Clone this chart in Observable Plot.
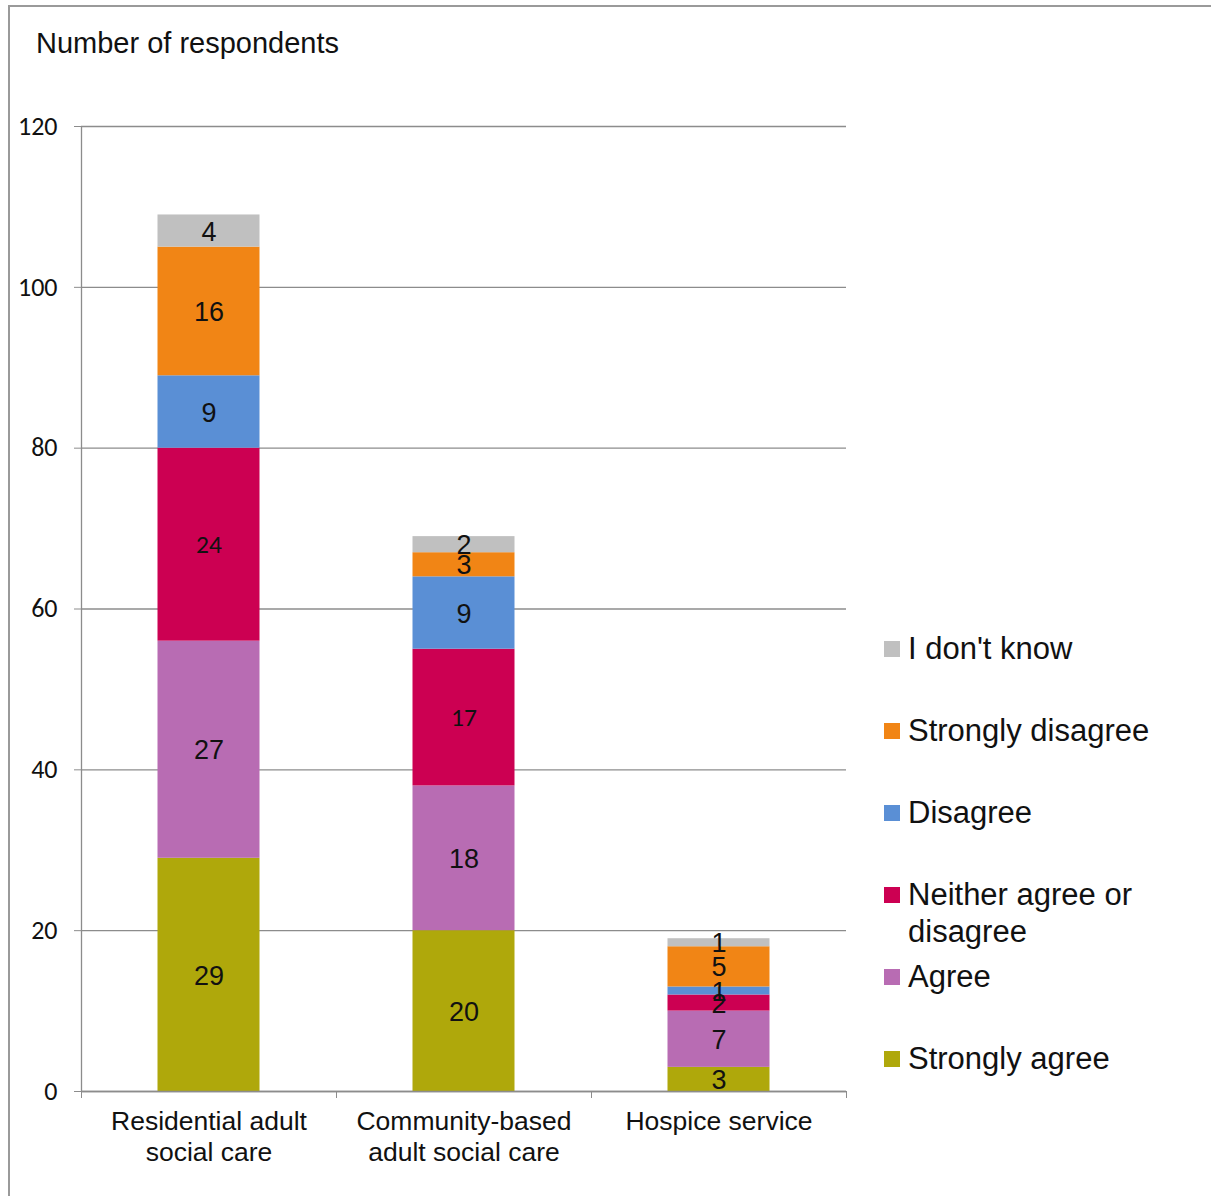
<!DOCTYPE html>
<html>
<head>
<meta charset="utf-8">
<script src="https://cdn.jsdelivr.net/npm/d3@7"></script>
<script src="https://cdn.jsdelivr.net/npm/@observablehq/plot@0.6"></script>
<style>
  html, body { margin: 0; padding: 0; background: #fff; }
  #wrap { position: relative; width: 1211px; height: 1196px; overflow: hidden; font-family: "Liberation Sans", Arial, sans-serif; }
  #border { position: absolute; left: 8px; top: 5px; width: 1220px; height: 1220px; border: 2px solid #9a9a9a; box-sizing: border-box; }
  #chart { position: absolute; left: 0; top: 0; }
  #ylabel { position: absolute; left: 36px; top: 26px; font-size: 29px; line-height: 34px; color: #111; white-space: nowrap; }
  .leg { position: absolute; left: 884px; font-size: 31px; line-height: 37px; color: #111; width: 327px; display: flex; align-items: flex-start; }
  .leg .sw { width: 16px; height: 16px; margin-top: 11px; margin-right: 8px; flex: none; }
</style>
</head>
<body>
<div id="wrap">
  <div id="border"></div>
  <div id="chart"></div>
  <div id="ylabel">Number of respondents</div>
</div>
<script>
// ---- data ----
const categories = ["Residential adult\nsocial care", "Community-based\nadult social care", "Hospice service"];
const seriesNames = ["Strongly agree", "Agree", "Neither agree or disagree", "Disagree", "Strongly disagree", "I don't know"];
const stronglyAgree = [29, 20, 3];
const agree = [27, 18, 7];
const neither = [24, 17, 2];
const disagree = [9, 9, 1];
const stronglyDisagree = [16, 3, 5];
const dontKnow = [4, 2, 1];
const seriesColors = ["#AFA80B", "#B86CB3", "#CC0052", "#5A8FD5", "#F18515", "#C0C0C0"];
const yTicks = [0, 20, 40, 60, 80, 100, 120];
const legendOrder = ["I don't know", "Strongly disagree", "Disagree", "Neither agree or disagree", "Agree", "Strongly agree"];

// ---- build stacked rows ----
const seriesValues = [stronglyAgree, agree, neither, disagree, stronglyDisagree, dontKnow];
const rows = [];
categories.forEach((cat, i) => {
  let base = 0;
  seriesNames.forEach((s, k) => {
    const v = seriesValues[k][i];
    rows.push({cat, i, series: s, value: v, y1: base, y2: base + v});
    base += v;
  });
});
const BAR = 0.4; // fraction of band occupied by bar

const color = d3.scaleOrdinal(seriesNames, seriesColors);
const bigLabel = d => !(d.series === "Neither agree or disagree" && d.value > 10);

const chart = Plot.plot({
  width: 1211,
  height: 1196,
  marginLeft: 81,
  marginRight: 365,
  marginTop: 126,
  marginBottom: 105,
  style: {background: "transparent", overflow: "visible"},
  x: {domain: [0, categories.length], axis: null},
  y: {domain: [0, 120], axis: null},
  marks: [
    Plot.gridY(yTicks, {stroke: "#8c8c8c", strokeOpacity: 1, strokeWidth: 1.3}),
    Plot.rect(rows, {
      x1: d => d.i + 0.5 - BAR / 2,
      x2: d => d.i + 0.5 + BAR / 2,
      y1: "y1", y2: "y2",
      fill: d => color(d.series)
    }),
    Plot.ruleX([0], {stroke: "#8c8c8c", strokeWidth: 1.3}),
    Plot.ruleY([0], {stroke: "#8c8c8c", strokeWidth: 1.3}),
    Plot.axisY({ticks: yTicks, tickSize: 7, tickPadding: 17, stroke: "#8c8c8c", fontSize: 26, fontFamily: "Carlito, Lato, sans-serif", fill: "#111", label: null}),
    Plot.axisX({ticks: [0, 1, 2, 3], tickSize: 7, stroke: "#8c8c8c", tickFormat: () => "", label: null}),
    Plot.text(categories, {
      x: (d, i) => i + 0.5, y: 0, text: d => d,
      lineAnchor: "top", dy: 16, fontSize: 26.5, lineHeight: 1.17,
      fontFamily: "Liberation Sans, Arial, sans-serif", fill: "#111"
    }),
    Plot.text(rows.filter(bigLabel), {
      x: d => d.i + 0.5, y: d => (d.y1 + d.y2) / 2, text: d => String(d.value),
      fontSize: 27, fontFamily: "Liberation Sans, Arial, sans-serif", fill: "#111", dy: 1
    }),
    Plot.text(rows.filter(d => !bigLabel(d)), {
      x: d => d.i + 0.5, y: d => (d.y1 + d.y2) / 2, text: d => String(d.value),
      fontSize: 25.5, fontFamily: "Carlito, Lato, sans-serif", fill: "#111"
    })
  ]
});
document.getElementById("chart").appendChild(chart);

// ---- legend ----
const wrap = document.getElementById("wrap");
legendOrder.forEach((name, idx) => {
  const item = document.createElement("div");
  item.className = "leg";
  item.style.top = (649 + idx * 82 - 19) + "px";
  const sw = document.createElement("div");
  sw.className = "sw";
  sw.style.background = color(name);
  const label = document.createElement("div");
  label.textContent = name;
  label.style.width = "300px";
  item.appendChild(sw);
  item.appendChild(label);
  wrap.appendChild(item);
});
</script>
</body>
</html>
